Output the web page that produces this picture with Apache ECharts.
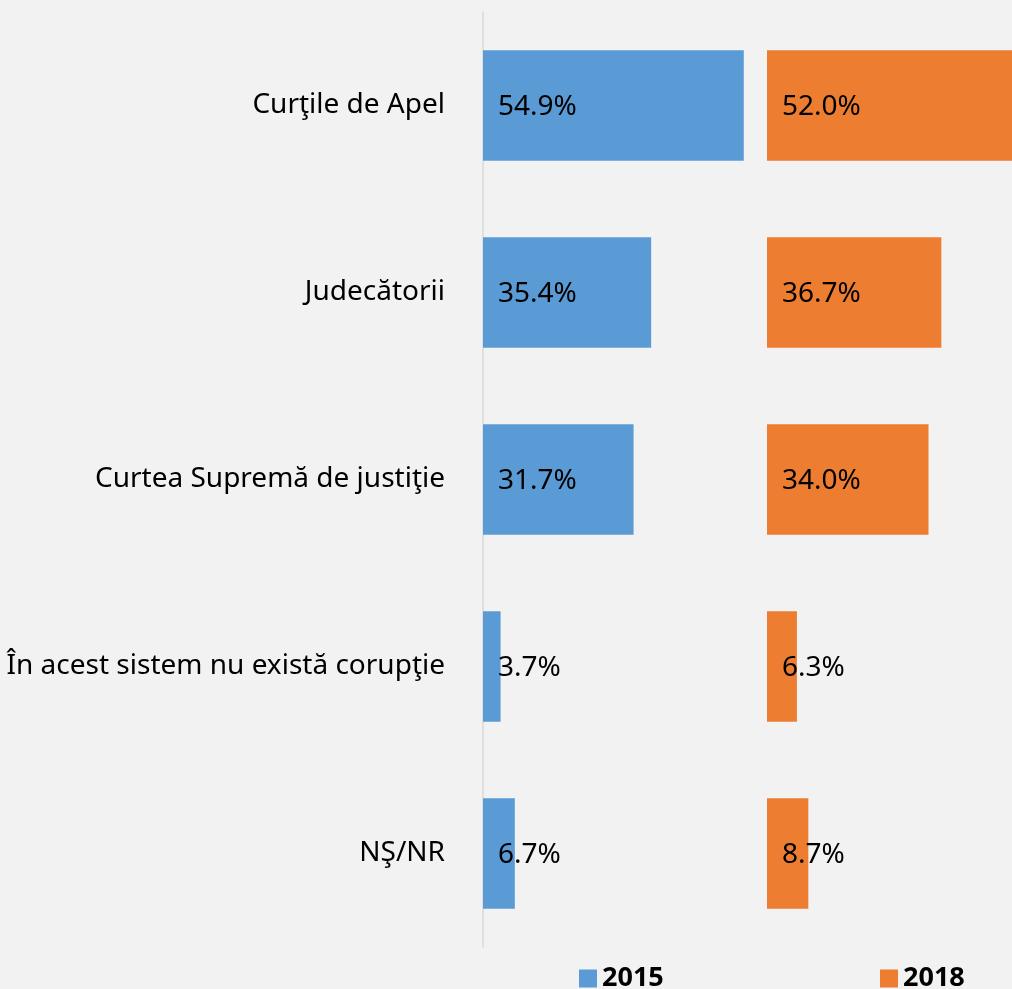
<!DOCTYPE html>
<html>
<head>
<meta charset="utf-8">
<script src="https://cdn.jsdelivr.net/npm/echarts@6/dist/echarts.min.js"></script>
<style>
  html, body { margin: 0; padding: 0; background: #F2F2F2; }
  #chart { width: 1012px; height: 989px; }
</style>
</head>
<body>
<div id="chart"></div>
<script>
// Categories, top to bottom
const categories = [
  'Curţile de Apel',
  'Judecătorii',
  'Curtea Supremă de justiţie',
  'În acest sistem nu există corupţie',
  'NŞ/NR'
];
const seriesNames = ['2015', '2018'];
const values2015 = [54.9, 35.4, 31.7, 3.7, 6.7];
const values2018 = [52.0, 36.7, 34.0, 6.3, 8.7];

const BLUE = '#5B9BD5';
const ORANGE = '#ED7D31';
const FONT = '"Noto Sans", "DejaVu Sans", sans-serif';
const FS = 28;

const chart = echarts.init(document.getElementById('chart'), null, { renderer: 'canvas' });

const gridTop = 12;
const gridHeight = 935;
// both panels share the same scale (~4.75 px per percent); the right one runs off the page edge
const pxPerUnit = 285 / 60;
const rightPanelWidth = 1012 - 767;

function valueLabel() {
  return {
    show: true,
    position: 'insideLeft',
    distance: 15,
    offset: [0, 2],
    color: '#000',
    fontFamily: FONT,
    fontSize: FS,
    formatter: p => p.value.toFixed(1) + '%'
  };
}

function legendFor(name, left) {
  return {
    data: [name],
    left: left, top: 960,
    icon: 'rect', itemWidth: 18, itemHeight: 18,
    textStyle: { fontFamily: FONT, fontSize: 27, fontWeight: 'bold', color: '#000' }
  };
}

const option = {
  backgroundColor: '#F2F2F2',
  animation: false,
  legend: [legendFor(seriesNames[0], 574), legendFor(seriesNames[1], 875)],
  grid: [
    { left: 483, top: gridTop, width: 285, height: gridHeight },
    { left: 767, top: gridTop, width: rightPanelWidth, height: gridHeight }
  ],
  xAxis: [
    { gridIndex: 0, type: 'value', min: 0, max: 60, show: false },
    { gridIndex: 1, type: 'value', min: 0, max: rightPanelWidth / pxPerUnit, show: false }
  ],
  yAxis: [
    {
      gridIndex: 0, type: 'category', data: categories, inverse: true,
      axisLine: { show: true, lineStyle: { color: '#D9D9D9', width: 1.5 } },
      axisTick: { show: false },
      axisLabel: { margin: 38, color: '#000', fontFamily: FONT, fontSize: FS, padding: [4, 0, 0, 0] }
    },
    {
      gridIndex: 1, type: 'category', data: categories, inverse: true,
      axisLine: { show: false }, axisTick: { show: false }, axisLabel: { show: false }
    }
  ],
  series: [
    {
      name: seriesNames[0], type: 'bar', xAxisIndex: 0, yAxisIndex: 0,
      data: values2015, barWidth: '59%',
      itemStyle: { color: BLUE },
      label: valueLabel()
    },
    {
      name: seriesNames[1], type: 'bar', xAxisIndex: 1, yAxisIndex: 1,
      data: values2018, barWidth: '59%',
      itemStyle: { color: ORANGE },
      label: valueLabel()
    }
  ]
};

chart.setOption(option);
</script>
</body>
</html>
